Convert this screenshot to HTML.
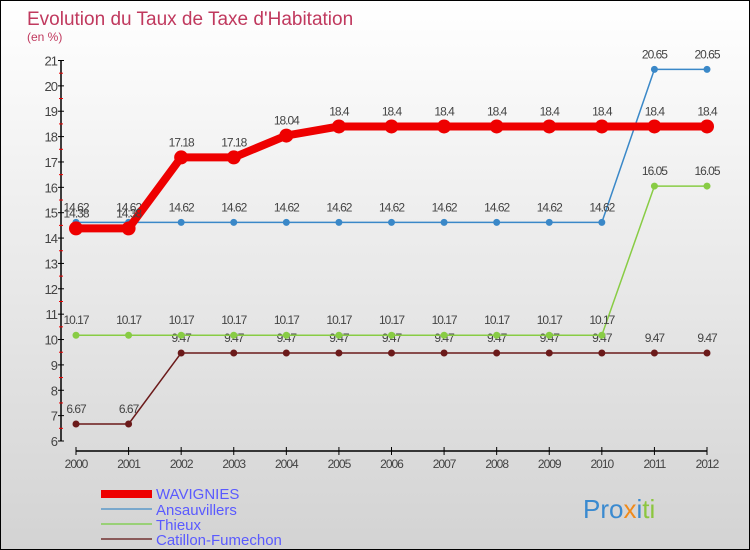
<!DOCTYPE html>
<html><head><meta charset="utf-8"><style>
body{margin:0}
#c{position:relative;width:748px;height:548px;border:1px solid #000;background:linear-gradient(#ffffff,#d3d3d3);font-family:"Liberation Sans",sans-serif;overflow:hidden}
</style></head><body>
<div id="c">
<svg id="s" width="748" height="548" xmlns="http://www.w3.org/2000/svg" style="position:absolute;left:0;top:0">
<text x="26" y="24" font-size="19" fill="#c0395e">Evolution du Taux de Taxe d'Habitation</text>
<text x="26" y="40" font-size="12" fill="#c0395e">(en %)</text>
<g id="axes"></g><g id="series"></g>
<g>
<rect x="100" y="489" width="51" height="8" fill="#e00"/>
<text x="155" y="498" font-size="15" fill="#5a5aff">WAVIGNIES</text>
<rect x="100" y="507" width="51" height="2" fill="#7aa8cc"/>
<text x="155" y="514" font-size="15" fill="#5a5aff">Ansauvillers</text>
<rect x="100" y="522" width="51" height="2" fill="#99d077"/>
<text x="155" y="529" font-size="15" fill="#5a5aff">Thieux</text>
<rect x="100" y="537" width="51" height="2" fill="#8a5a5a"/>
<text x="155" y="544" font-size="15" fill="#5a5aff">Catillon-Fumechon</text>
</g>
<text x="582" y="517" font-size="26"><tspan fill="#3a8ad0">Pro</tspan><tspan fill="#f08a1a">x</tspan><tspan fill="#3a8ad0">i</tspan><tspan fill="#8cc63f">ti</tspan></text>
</svg>
</div>
<script>
const years=[2000,2001,2002,2003,2004,2005,2006,2007,2008,2009,2010,2011,2012];
const wavignies=[14.38,14.38,17.18,17.18,18.04,18.4,18.4,18.4,18.4,18.4,18.4,18.4,18.4];
const ansauvillers=[14.62,14.62,14.62,14.62,14.62,14.62,14.62,14.62,14.62,14.62,14.62,20.65,20.65];
const thieux=[10.17,10.17,10.17,10.17,10.17,10.17,10.17,10.17,10.17,10.17,10.17,16.05,16.05];
const catillon=[6.67,6.67,9.47,9.47,9.47,9.47,9.47,9.47,9.47,9.47,9.47,9.47,9.47];
const yTicks=[6,7,8,9,10,11,12,13,14,15,16,17,18,19,20,21];
const NS="http://www.w3.org/2000/svg";
function X(i){return 75+i*(706-75)/(years.length-1);}
function Y(v){return 440-(v-6)*(440-59.5)/15;}
function mk(tag,attrs,parent,text){const e=document.createElementNS(NS,tag);for(const k in attrs)e.setAttribute(k,attrs[k]);if(text!==undefined)e.textContent=text;parent.appendChild(e);return e;}
const ax=document.getElementById('axes');
let l=mk('line',{x1:60,y1:Y(21),x2:60,y2:Y(6),stroke:'#000','stroke-width':1.5},ax);


l=mk('line',{x1:X(0),y1:450,x2:X(12),y2:450,stroke:'#000','stroke-width':1.5},ax);


yTicks.forEach(v=>{
 mk('line',{x1:57,x2:63,y1:Y(v),y2:Y(v),stroke:'#000'},ax);
 if(v<21)mk('line',{x1:58,x2:62,y1:Y(v+0.5),y2:Y(v+0.5),stroke:'#e00'},ax);
 const t=mk('text',{x:56,y:Y(v)+5,'font-size':13,'text-anchor':'end',fill:'#444','letter-spacing':'-1'},ax,String(v));
 
 
});
years.forEach((yr,i)=>{
 mk('line',{x1:X(i),x2:X(i),y1:446,y2:454,stroke:'#000'},ax);
 const t=mk('text',{x:X(i),y:467,'font-size':12,'text-anchor':'middle',fill:'#444','letter-spacing':'-1'},ax,String(yr));
 
 
});
const sg=document.getElementById('series');
function series(vals,color,w,r,name){
 const g=mk('g',{},sg);
 
 
 mk('polyline',{points:vals.map((v,i)=>X(i)+','+Y(v)).join(' '),fill:'none',stroke:color,'stroke-width':w,'stroke-linejoin':'round'},g);
 vals.forEach((v,i)=>{
  const c=mk('circle',{cx:X(i),cy:Y(v),r:r,fill:color},g);
  
  
  mk('text',{x:X(i),y:Y(v)-11,'font-size':12,'text-anchor':'middle',fill:'#444','letter-spacing':'-1'},g,String(v));
 });
}
series(catillon,'#6b1a1a',1.5,3.5,'catillon');
series(thieux,'#88cc44',1.5,3.5,'thieux');
series(ansauvillers,'#3a88c8',1.5,3.5,'ansauvillers');
series(wavignies,'#ee0000',8,7,'wavignies');
</script>
</body></html>
